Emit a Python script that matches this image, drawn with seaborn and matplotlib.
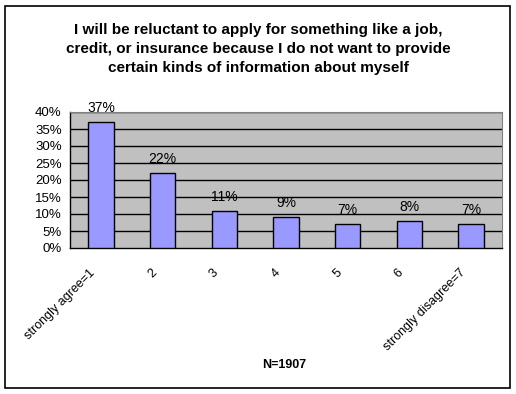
import numpy as np
import pandas as pd
import matplotlib
matplotlib.use('Agg')
import matplotlib.pyplot as plt
from matplotlib.patches import Rectangle
from matplotlib.transforms import ScaledTranslation
import seaborn as sns

categories = ['strongly agree=1', '2', '3', '4', '5', '6', 'strongly disagree=7']
values = [37, 22, 11, 9, 7, 8, 7]
labels = ['37%', '22%', '11%', '9%', '7%', '8%', '7%']
yticks = [0, 5, 10, 15, 20, 25, 30, 35, 40]

df = pd.DataFrame({'answer': categories, 'pct': values})

sns.set_style('white')
plt.rcParams['font.family'] = ['Liberation Sans', 'DejaVu Sans']
plt.rcParams['text.color'] = 'black'
plt.rcParams['xtick.color'] = 'black'
plt.rcParams['ytick.color'] = 'black'

fig = plt.figure(figsize=(5.16, 3.94), dpi=100)
# outer chart border
fig.patches.append(Rectangle((5 / 516, 6 / 394), 505 / 516, 382 / 394, transform=fig.transFigure,
                             fill=False, edgecolor='black', linewidth=1.2))

ax = fig.add_axes([70 / 516, 1 - 248 / 394, 432 / 516, 136 / 394])
ax.set_facecolor('#C0C0C0')
sns.barplot(data=df, x='answer', y='pct', color='#9999FF', edgecolor='black', linewidth=1,
            width=0.41, saturation=1, ax=ax, zorder=3)

ax.set_ylim(0, 40)
ax.set_xlim(-0.5, len(categories) - 0.5)
ax.set_yticks(yticks)
ax.set_yticklabels([f'{t}%' for t in yticks], fontsize=9.5)
for t in yticks[1:]:
    ax.axhline(t, color='black', linewidth=1, zorder=1)

ax.set_xticks(np.arange(len(categories) + 1) - 0.5, minor=False)
ax.set_xticklabels([])
ax.set_xticks(np.arange(len(categories)), minor=True)
ax.set_xticklabels(categories, minor=True, rotation=45, ha='right', va='top',
                   rotation_mode='anchor', fontsize=9)
ax.tick_params(axis='x', which='major', direction='out', length=4, color='black', width=1)
ax.tick_params(axis='x', which='minor', length=0, pad=10)
ax.tick_params(axis='y', direction='out', length=4, color='black', width=1, pad=2)
shift = ScaledTranslation(-12 / 100, -5 / 100, fig.dpi_scale_trans)
for lab in ax.get_xticklabels(minor=True):
    lab.set_transform(lab.get_transform() + shift)

for side in ['top', 'right']:
    ax.spines[side].set_color('#808080')
for side in ['left', 'bottom']:
    ax.spines[side].set_color('black')
    ax.spines[side].set_linewidth(1)

for i, (v, lab) in enumerate(zip(values, labels)):
    ax.annotate(lab, (i, v), xytext=(0, 5), textcoords='offset points',
                ha='center', va='bottom', fontsize=10, zorder=4)

ax.set_xlabel('')
ax.set_ylabel('')

fig.text(258 / 516, 1 - 49 / 394,
         'I will be reluctant to apply for something like a job,\n'
         'credit, or insurance because I do not want to provide\n'
         'certain kinds of information about myself',
         ha='center', va='center', fontsize=11, fontweight='bold', linespacing=1.45)
fig.text(284 / 516, 1 - 365 / 394, 'N=1907', ha='center', va='center', fontsize=9, fontweight='bold')

fig.savefig('out.png', dpi=100)
